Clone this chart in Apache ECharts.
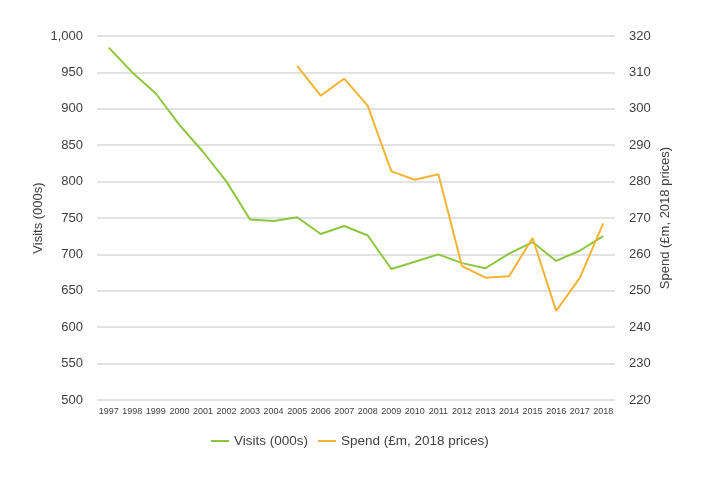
<!DOCTYPE html>
<html>
<head>
<meta charset="utf-8">
<script src="https://cdn.jsdelivr.net/npm/echarts@6/dist/echarts.min.js"></script>
<style>
  html, body { margin: 0; padding: 0; background: #fff; }
  #chart { width: 720px; height: 478px; }
</style>
</head>
<body>
<div id="chart"></div>
<script>
// years on the x axis
const years = ['1997', '1998', '1999', '2000', '2001', '2002', '2003', '2004', '2005', '2006', '2007',
  '2008', '2009', '2010', '2011', '2012', '2013', '2014', '2015', '2016', '2017', '2018'];
// visits, thousands (left axis)
const visits = [984, 950, 921, 878, 841, 800, 748, 746, 751, 728, 739,
  726, 680, 690, 700, 688, 681, 701, 717, 691, 705, 725];
// spend, £m 2018 prices (right axis), no data before 2005
const spend = [null, null, null, null, null, null, null, null, 311.8, 303.6, 308.3,
  300.8, 282.8, 280.5, 282, 256.8, 253.6, 254, 264.5, 244.5, 253.5, 268.5];

const chart = echarts.init(document.getElementById('chart'));
const textColor = '#404040';
const gridColor = '#d9d9d9';
const font = 'Liberation Sans';

const option = {
  animation: false,
  grid: { left: 97, right: 105, top: 36, bottom: 78 },
  legend: {
    left: 206,
    top: 429,
    icon: 'rect',
    itemWidth: 18,
    itemHeight: 2,
    itemGap: 10,
    textStyle: { color: textColor, fontSize: 13.5, fontFamily: font },
    data: ['Visits (000s)', 'Spend (£m, 2018 prices)']
  },
  xAxis: {
    type: 'category',
    data: years,
    boundaryGap: true,
    axisLine: { show: false },
    axisTick: { show: false },
    axisLabel: { color: textColor, fontSize: 9, fontFamily: font, margin: 7, interval: 0 }
  },
  yAxis: [
    {
      type: 'value',
      min: 500,
      max: 1000,
      interval: 50,
      name: 'Visits (000s)',
      nameLocation: 'middle',
      nameGap: 52,
      nameMoveOverlap: false,
      nameTextStyle: { color: textColor, fontSize: 13, fontFamily: font },
      axisLine: { show: false },
      axisTick: { show: false },
      axisLabel: {
        color: textColor, fontSize: 13, fontFamily: font, margin: 14,
        formatter: v => v.toLocaleString('en-GB')
      },
      splitLine: { lineStyle: { color: gridColor, width: 1.5 } }
    },
    {
      type: 'value',
      min: 220,
      max: 320,
      interval: 10,
      name: 'Spend (£m, 2018 prices)',
      nameLocation: 'middle',
      nameGap: 44,
      nameMoveOverlap: false,
      nameRotate: 90,
      nameTextStyle: { color: textColor, fontSize: 13, fontFamily: font },
      axisLine: { show: false },
      axisTick: { show: false },
      axisLabel: { color: textColor, fontSize: 13, fontFamily: font, margin: 14 },
      splitLine: { show: false }
    }
  ],
  series: [
    {
      name: 'Visits (000s)',
      type: 'line',
      yAxisIndex: 0,
      data: visits,
      symbol: 'none',
      lineStyle: { color: '#8cc63e', width: 2 },
      itemStyle: { color: '#8cc63e' }
    },
    {
      name: 'Spend (£m, 2018 prices)',
      type: 'line',
      yAxisIndex: 1,
      data: spend,
      symbol: 'none',
      lineStyle: { color: '#f5b335', width: 2 },
      itemStyle: { color: '#f5b335' }
    }
  ]
};

chart.setOption(option);
window.addEventListener('resize', () => chart.resize());
</script>
</body>
</html>
